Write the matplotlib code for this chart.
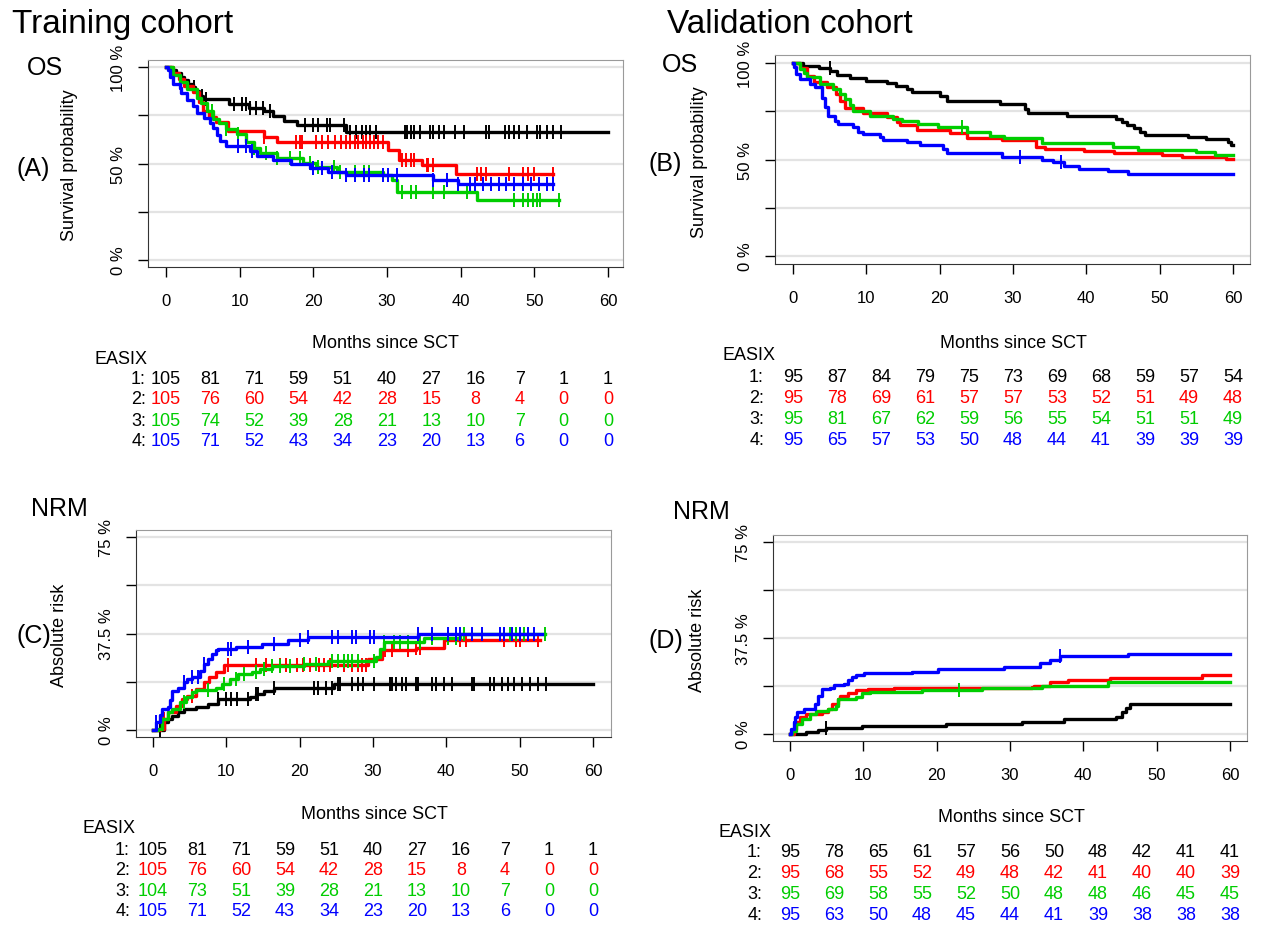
import numpy as np
import matplotlib
matplotlib.use("Agg")
import matplotlib.pyplot as plt
import matplotlib.transforms as mtrans

plt.rcParams['font.family'] = ['Liberation Sans', 'DejaVu Sans']

W, H = 1261, 929
COLORS = ['black', '#FF0000', '#00CD00', '#0000FF']

# ---------------- (A) OS, training cohort ----------------
a_t1 = [0, 0.7, 1.3, 2.0, 2.5, 3.0, 3.6, 4.0, 4.5, 5.0, 8.5, 11.3, 13.3, 14.5, 16.0, 17.8, 24.4]
a_v1 = [100, 98.5, 97, 95, 93.5, 91, 89.5, 87.5, 85, 83.5, 81, 79, 77, 74.5, 72, 69.8, 66.5]
a_t2 = [0, 1.0, 1.7, 2.5, 3.6, 4.5, 5.0, 5.9, 6.8, 8.4, 13.3, 15.0, 30.2, 31.6, 34.8, 39.4]
a_v2 = [100, 97, 94, 90, 87, 82, 77, 74, 71.5, 67, 63.5, 61, 57, 52, 49, 44.5]
a_t3 = [0, 1.0, 1.9, 2.8, 4.2, 4.8, 5.5, 6.4, 7.2, 8.2, 9.6, 10.9, 11.9, 12.8, 15.0, 18.6,
        20.4, 23.2, 29.4, 30.7, 31.3, 42.2]
a_v3 = [100, 96, 92, 88.5, 84, 81.6, 77, 73, 71, 68, 65.5, 61, 58, 55.5, 53, 50.5,
        48, 45.5, 44, 41.5, 35, 31]
a_t4 = [0, 0.3, 0.6, 0.9, 1.9, 2.1, 2.8, 3.7, 4.2, 5.1, 6.0, 6.4, 6.9, 7.3, 8.2, 11.4,
        12.3, 14.5, 17.0, 19.5, 22.0, 24.5, 36.2, 39.7]
a_v4 = [100, 98.5, 95, 91, 89, 86.5, 83, 79.6, 76, 73.6, 71, 68.4, 65, 61.5, 59, 56.3,
        54, 52, 49.5, 47.5, 45.5, 44, 41.5, 39.5]
a_end = [60, 52.5, 53.3, 52.5]
a_c1 = [3.8, 4.9, 5.4, 9.2, 10.3, 10.9, 11.4, 12.2, 13.1, 14.1, 18.9, 19.9, 20.7, 21.9, 22.3,
        24.2, 25.0, 25.8, 26.6, 27.2, 27.7, 28.5, 32.4, 32.7, 33.2, 33.7, 34.5, 35.9, 36.2,
        37.0, 37.8, 39.2, 40.5, 43.5, 43.8, 46.0, 46.5, 47.3, 47.9, 49.0, 50.3, 50.8, 51.7,
        52.5, 53.6]
a_c2 = [13.3, 17.7, 18.2, 18.5, 20.4, 21.2, 22.0, 22.9, 23.7, 24.5, 25.0, 25.6, 26.1, 26.7,
        27.2, 27.7, 28.3, 28.8, 29.4, 32.1, 32.6, 33.2, 33.7, 35.4, 35.6, 36.2, 42.2, 42.7,
        43.5, 46.5, 48.4, 49.2, 50.0, 52.5]
a_c3 = [6.3, 8.2, 9.8, 12.0, 13.6, 15.0, 16.9, 18.2, 19.6, 20.7, 22.8, 23.6, 25.6, 26.9,
        27.5, 32.1, 33.2, 34.0, 36.2, 37.8, 40.8, 47.3, 48.4, 49.2, 49.8, 50.3, 50.8, 53.3]
a_c4 = [9.8, 10.9, 11.7, 19.9, 21.2, 22.6, 24.5, 25.6, 26.9, 27.5, 29.4, 30.2, 31.3, 36.2,
        38.1, 39.7, 41.3, 41.9, 43.0, 44.1, 45.2, 46.2, 47.3, 48.4, 49.5, 50.6, 51.7, 52.5]
a_risk1 = [105, 81, 71, 59, 51, 40, 27, 16, 7, 1, 1]
a_risk2 = [105, 76, 60, 54, 42, 28, 15, 8, 4, 0, 0]
a_risk3 = [105, 74, 52, 39, 28, 21, 13, 10, 7, 0, 0]
a_risk4 = [105, 71, 52, 43, 34, 23, 20, 13, 6, 0, 0]

# ---------------- (B) OS, validation cohort ----------------
b_t1 = [0, 1.4, 3.5, 5.1, 6.0, 7.8, 10.0, 12.8, 14.1, 15.5, 16.2, 20.0, 21.0, 28.2, 31.6,
        32.1, 37.3, 44.1, 44.9, 45.6, 46.5, 47.3, 48.0, 53.8, 56.3, 59.3, 59.7]
b_v1 = [100, 98.5, 97.5, 96, 94, 92, 90.8, 89.5, 88, 86.5, 85, 83, 80.5, 78.5, 76,
        74, 72.5, 71, 69.5, 68, 66.5, 64.5, 62.5, 61.5, 60.5, 59, 57.5]
b_t2 = [0, 0.9, 1.9, 2.8, 4.6, 5.9, 6.4, 7.1, 9.6, 12.8, 14.2, 14.6, 16.9, 21.4, 23.7, 28.5,
        33.2, 34.3, 39.7, 43.8, 50.3, 53.0, 59.0]
b_v2 = [100, 97.5, 93.5, 90, 87.5, 84, 80.5, 76.5, 74, 72, 69.5, 68, 65.5, 63.5, 61, 60,
        56.5, 55.5, 54.5, 53.5, 52.5, 51.2, 50.3]
b_t3 = [0, 0.9, 1.5, 1.9, 3.7, 5.5, 6.4, 7.1, 7.8, 8.2, 10.5, 13.7, 14.8, 17.1, 19.8, 23.7,
        26.9, 28.8, 34.0, 43.7, 47.0, 55.0, 57.5]
b_v3 = [100, 97, 95, 92.5, 89, 86.5, 84, 81.3, 78, 75.3, 72.7, 71, 70, 68.4, 66.7, 64.1,
        62.4, 61, 58.5, 56.5, 54.7, 53.9, 52.5]
b_t4 = [0, 0.2, 0.4, 0.9, 2.3, 3.0, 3.9, 4.4, 4.8, 5.7, 6.2, 8.2, 8.9, 9.6, 11.9, 12.3,
        15.5, 17.3, 20.5, 21.0, 28.5, 34.0, 35.5, 37.0, 39.0, 43.0, 45.7]
b_v4 = [100, 98, 94.5, 91.7, 89, 87.5, 82, 77, 72.7, 70, 68.4, 66.7, 64.5, 63.3, 61.6, 60,
        59, 57.3, 55.5, 53.5, 51.5, 50, 48.7, 46.5, 45.3, 44, 42.7]
b_end = [60, 60, 60, 60]
b_c1 = [5.0]
b_c2 = []
b_c3 = [23.0]
b_c4 = [31.0, 36.6]
b_risk1 = [95, 87, 84, 79, 75, 73, 69, 68, 59, 57, 54]
b_risk2 = [95, 78, 69, 61, 57, 57, 53, 52, 51, 49, 48]
b_risk3 = [95, 81, 67, 62, 59, 56, 55, 54, 51, 51, 49]
b_risk4 = [95, 65, 57, 53, 50, 48, 44, 41, 39, 39, 39]

# ---------------- (C) NRM, training cohort ----------------
c_t1 = [0, 1.5, 2.0, 2.6, 3.4, 4.2, 5.8, 7.5, 8.8, 13.2, 14.0, 15.1, 16.5, 24.7]
c_v1 = [0, 3, 4.3, 5.6, 6.9, 8.2, 8.8, 10.1, 12, 12.7, 14, 15.3, 16.5, 17.9]
c_t2 = [0, 0.9, 1.5, 2.0, 3.1, 3.9, 4.7, 5.8, 6.9, 7.7, 8.6, 9.7, 29.3, 31.2, 35.8, 39.7]
c_v2 = [0, 0.5, 4.3, 6.9, 9.5, 12, 13.4, 16, 18.5, 20.5, 22.4, 25.3, 27.6, 30.9, 31.8, 34.8]
c_t3 = [0, 0.7, 1.2, 2.0, 2.6, 3.7, 4.5, 5.3, 5.8, 8.6, 9.4, 10.5, 11.6, 13.5, 14.6, 16.2,
        20.6, 23.8, 30.4, 30.9, 31.5, 36.9, 41.8]
c_v3 = [0, 0.5, 4.3, 6.9, 8.2, 10.8, 12.7, 14.7, 15.5, 16.3, 17.9, 19.8, 21.8, 22.4, 23.7,
        25, 25.7, 27, 28.3, 31.5, 34.1, 35.7, 37.4]
c_t4 = [0, 0.4, 0.9, 1.2, 2.0, 2.3, 2.6, 3.4, 4.2, 4.7, 5.3, 6.4, 6.9, 7.5, 8.0, 8.6, 8.8,
        11.3, 14.8, 18.4, 21.1, 36.1]
c_v4 = [0, 3, 5.8, 8.2, 8.8, 11.5, 15.3, 16.5, 18.5, 19.8, 20.5, 22.8, 25.5, 27.6, 29.6,
        30.9, 31.5, 32.4, 33.5, 34.8, 36, 37.4]
c_end = [60, 52.8, 53.4, 53.0]
c_c1 = [0.9, 8.8, 9.9, 10.7, 11.5, 12.9, 14.0, 14.3, 16.5, 21.9, 22.5, 23.6, 24.4, 25.2,
        25.5, 27.1, 27.9, 28.7, 30.1, 32.3, 32.6, 33.1, 33.9, 34.5, 35.8, 36.1, 38.0, 38.6,
        39.7, 40.8, 43.5, 43.8, 45.9, 46.5, 47.6, 48.4, 49.2, 50.3, 51.4, 52.5, 53.6]
c_c2 = [1.5, 5.3, 10.2, 14.0, 15.4, 17.3, 18.1, 19.7, 20.5, 21.4, 22.7, 23.3, 24.1, 26.0,
        27.1, 27.9, 28.5, 29.0, 31.7, 32.6, 34.8, 35.8, 36.4, 41.8, 42.7, 47.8, 49.5, 50.0,
        52.5]
c_c3 = [1.2, 4.2, 7.5, 9.7, 11.3, 12.4, 14.0, 15.1, 16.2, 17.3, 18.7, 20.6, 22.2, 24.4,
        25.2, 26.0, 26.6, 27.1, 27.9, 30.1, 31.5, 32.8, 33.7, 34.8, 36.4, 38.0, 40.2, 41.3,
        42.4, 47.8, 48.7, 49.5, 50.6, 53.4]
c_c4 = [0.4, 4.2, 5.3, 6.1, 6.9, 10.2, 10.7, 12.9, 16.5, 20.0, 21.1, 24.4, 25.2, 27.1, 27.7,
        29.6, 30.1, 36.1, 38.0, 40.2, 41.3, 41.8, 43.5, 44.8, 47.3, 47.8, 48.9, 50.0, 51.1,
        51.9]
c_risk1 = [105, 81, 71, 59, 51, 40, 27, 16, 7, 1, 1]
c_risk2 = [105, 76, 60, 54, 42, 28, 15, 8, 4, 0, 0]
c_risk3 = [104, 73, 51, 39, 28, 21, 13, 10, 7, 0, 0]
c_risk4 = [105, 71, 52, 43, 34, 23, 20, 13, 6, 0, 0]

# ---------------- (D) NRM, validation cohort ----------------
d_t1 = [0, 2.2, 3.8, 4.9, 9.8, 21.3, 31.6, 37.4, 44.5, 45.3, 45.8, 46.4]
d_v1 = [0, 0.9, 1.7, 2.2, 3.0, 3.9, 4.8, 5.9, 6.8, 8.5, 10, 11.7]
d_t2 = [0, 0.55, 0.8, 1.4, 2.2, 4.4, 5.2, 5.7, 6.5, 6.8, 7.9, 9.0, 10.6, 14.2, 33.0, 33.3,
        35.5, 37.9, 43.6, 56.2]
d_v2 = [0, 2, 4.6, 6.5, 7.8, 8.7, 9.8, 11.7, 13.7, 15, 15.9, 17, 17.6, 18, 18.3, 18.9,
        20.2, 20.9, 21.8, 23.2]
d_t3 = [0, 0.27, 0.8, 1.6, 2.7, 3.5, 5.2, 6.3, 6.5, 9.0, 9.8, 10.9, 18.0, 26.2, 34.4, 43.4]
d_v3 = [0, 1.3, 3.9, 5.9, 7.8, 9.1, 9.8, 11, 13.7, 14.3, 16, 16.5, 17, 17.9, 18.9, 20.2]
d_t4 = [0, 0.16, 0.55, 0.7, 1.0, 1.9, 3.4, 3.8, 4.4, 5.5, 6.0, 7.4, 7.9, 8.5, 9.0, 10.1,
        16.6, 20.2, 29.2, 34.1, 35.5, 36.8, 46.1]
d_v4 = [0, 2, 4.6, 6.5, 8.7, 9.6, 11.7, 15, 17.6, 18, 19.2, 19.6, 20.9, 22.2, 23.0, 24.0,
        24.4, 25.2, 26.3, 27.8, 29.0, 30.3, 31.4]
d_end = [60, 60, 60, 60]
d_c1 = [4.9]
d_c2 = []
d_c3 = [23.0]
d_c4 = [36.8]
d_risk1 = [95, 78, 65, 61, 57, 56, 50, 48, 42, 41, 41]
d_risk2 = [95, 68, 55, 52, 49, 48, 42, 41, 40, 40, 39]
d_risk3 = [95, 69, 58, 55, 52, 50, 48, 48, 46, 45, 45]
d_risk4 = [95, 63, 50, 48, 45, 44, 41, 39, 38, 38, 38]

risk_times = [0, 6, 12, 18, 24, 30, 36, 42, 48, 54, 60]
x_ticks = [0, 10, 20, 30, 40, 50, 60]
os_ticks = [0, 25, 50, 75, 100]
os_labels = ['0 %', '', '50 %', '', '100 %']
nrm_ticks = [0, 18.75, 37.5, 56.25, 75]
nrm_labels = ['0 %', '', '37.5 %', '', '75 %']

fig = plt.figure(figsize=(W / 100, H / 100), dpi=100)


def fx(x):
    return x / W


def fy(y):
    return 1 - y / H


def make_axes(frame, x0, x60, y0, ytop, ytop_val, yt, ylab):
    l, t, r, b = frame
    ax = fig.add_axes([fx(l), fy(b), (r - l) / W, (b - t) / H])
    sx = (x60 - x0) / 60.0
    ax.set_xlim((l - x0) / sx, (r - x0) / sx)
    sy = (y0 - ytop) / ytop_val
    ax.set_ylim((y0 - b) / sy, (y0 - t) / sy)
    ax.set_xticks(x_ticks)
    ax.set_yticks(yt)
    ax.set_yticklabels(ylab, rotation=90, va='center')
    ax.tick_params(axis='x', length=7, width=1, pad=12, labelsize=12)
    ax.tick_params(axis='y', length=7, width=1, pad=9, labelsize=12)
    for yv in yt:
        ax.axhline(yv, color='#E3E3E3', lw=1.6, zorder=0)
    for s in ['top', 'right']:
        ax.spines[s].set_color('#9a9a9a')
    for s in ['left', 'bottom']:
        ax.spines[s].set_color('#333333')
    return ax


def draw_curve(ax, t, v, t_end, cens, color):
    tt = np.append(t, t_end)
    vv = np.append(v, v[-1])
    ax.step(tt, vv, where='post', color=color, lw=2.4, zorder=3)
    if len(cens):
        idx = np.searchsorted(t, cens, side='right') - 1
        ax.plot(cens, np.array(v)[idx], ls='none', marker='|', ms=10, mew=1.4,
                color=color, zorder=3)


def risk_table(ax, rows, label_right, easix_left, easix_y, months_xy, row_y):
    tr = mtrans.blended_transform_factory(ax.transData, fig.transFigure)
    fig.text(fx(months_xy[0]), fy(months_xy[1]), 'Months since SCT', ha='center',
             va='center', fontsize=13)
    fig.text(fx(easix_left), fy(easix_y), 'EASIX', ha='left', va='center', fontsize=13)
    for i, (vals, c) in enumerate(zip(rows, COLORS)):
        fig.text(fx(label_right), fy(row_y[i]), f'{i + 1}:', ha='right', va='center',
                 fontsize=13)
        for tm, n in zip(risk_times, vals):
            ax.text(tm, fy(row_y[i]), str(n), transform=tr, ha='center', va='center',
                    fontsize=13, color=c, clip_on=False)


# panel A
axA = make_axes((148, 61, 623, 268), 166, 608, 261, 68, 100, os_ticks, os_labels)
for t, v, e, c, col in zip([a_t1, a_t2, a_t3, a_t4], [a_v1, a_v2, a_v3, a_v4], a_end,
                           [a_c1, a_c2, a_c3, a_c4], COLORS):
    draw_curve(axA, t, v, e, c, col)
risk_table(axA, [a_risk1, a_risk2, a_risk3, a_risk4], 146, 94, 360, (385, 344),
           [379, 400, 421, 442])

# panel B
axB = make_axes((775, 56, 1250, 265), 793, 1233, 257, 64, 100, os_ticks, os_labels)
for t, v, e, c, col in zip([b_t1, b_t2, b_t3, b_t4], [b_v1, b_v2, b_v3, b_v4], b_end,
                           [b_c1, b_c2, b_c3, b_c4], COLORS):
    draw_curve(axB, t, v, e, c, col)
risk_table(axB, [b_risk1, b_risk2, b_risk3, b_risk4], 764, 722, 356, (1013, 343),
           [378, 399, 420, 441])

# panel C
axC = make_axes((136, 531, 611, 738), 153, 593, 731, 538, 75, nrm_ticks, nrm_labels)
for t, v, e, c, col in zip([c_t1, c_t2, c_t3, c_t4], [c_v1, c_v2, c_v3, c_v4], c_end,
                           [c_c1, c_c2, c_c3, c_c4], COLORS):
    draw_curve(axC, t, v, e, c, col)
risk_table(axC, [c_risk1, c_risk2, c_risk3, c_risk4], 130, 82, 829, (374, 815),
           [851, 871, 892, 912])

# panel D
axD = make_axes((773, 536, 1247, 742), 790, 1230, 735, 543, 75, nrm_ticks, nrm_labels)
for t, v, e, c, col in zip([d_t1, d_t2, d_t3, d_t4], [d_v1, d_v2, d_v3, d_v4], d_end,
                           [d_c1, d_c2, d_c3, d_c4], COLORS):
    draw_curve(axD, t, v, e, c, col)
risk_table(axD, [d_risk1, d_risk2, d_risk3, d_risk4], 762, 719, 833, (1011, 818),
           [853, 874, 895, 916])

# titles and panel labels
fig.text(fx(12), fy(33), 'Training cohort', fontsize=24, va='baseline')
fig.text(fx(667), fy(33), 'Validation cohort', fontsize=24, va='baseline')
fig.text(fx(27), fy(75), 'OS', fontsize=18, va='baseline')
fig.text(fx(662), fy(72), 'OS', fontsize=18, va='baseline')
fig.text(fx(16), fy(176), '(A)', fontsize=18, va='baseline')
fig.text(fx(649), fy(171), '(B)', fontsize=18, va='baseline')
fig.text(fx(31), fy(516), 'NRM', fontsize=18, va='baseline')
fig.text(fx(673), fy(519), 'NRM', fontsize=18, va='baseline')
fig.text(fx(16), fy(643), '(C)', fontsize=18, va='baseline')
fig.text(fx(649), fy(648), '(D)', fontsize=18, va='baseline')
fig.text(fx(70), fy(165), 'Survival probability', rotation=90, ha='center', va='center',
         fontsize=13)
fig.text(fx(700), fy(162), 'Survival probability', rotation=90, ha='center', va='center',
         fontsize=13)
fig.text(fx(60), fy(635), 'Absolute risk', rotation=90, ha='center', va='center',
         fontsize=13)
fig.text(fx(697), fy(640), 'Absolute risk', rotation=90, ha='center', va='center',
         fontsize=13)

fig.savefig('out.png', dpi=100)
